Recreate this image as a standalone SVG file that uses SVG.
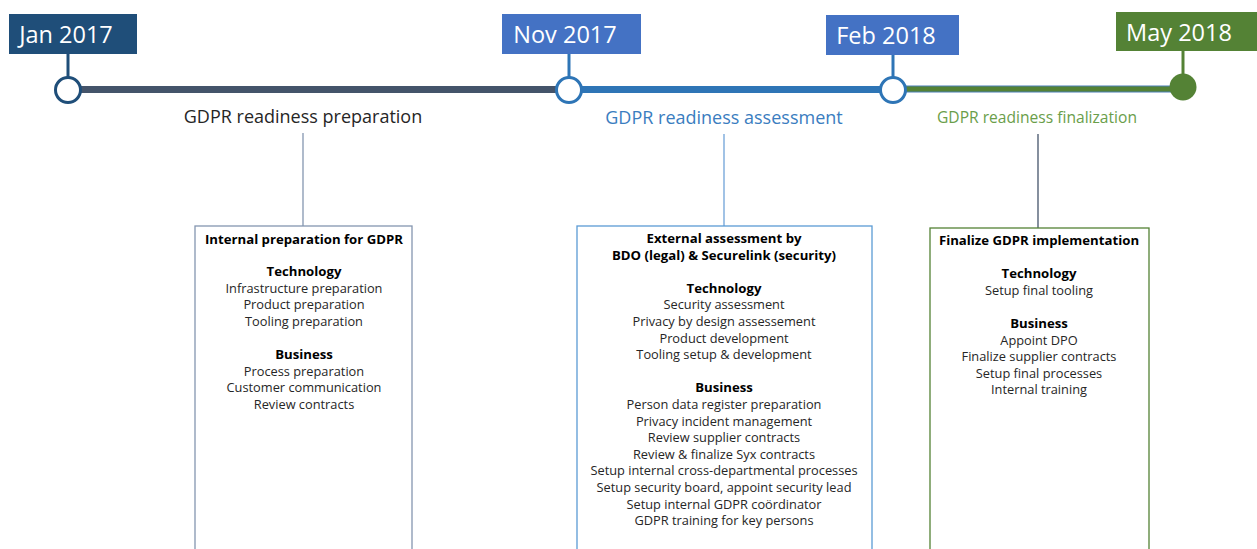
<svg xmlns="http://www.w3.org/2000/svg" width="1257" height="549" viewBox="0 0 1257 549">
<style>
text{font-family:"Open Sans","Noto Sans","Liberation Sans",sans-serif;text-anchor:middle}
.date{fill:#fff;font-size:23.5px}
.phase{font-size:18px}
.box{fill:#fff;stroke-width:1.3}
.t{font-size:12.8px;fill:#262626}
.b{font-size:13.2px;font-weight:bold;fill:#000}
.ring{fill:#fff;stroke-width:3}
</style>
<rect width="1257" height="549" fill="#fff"/>
<g id="timeline">
<line x1="68" y1="89.5" x2="569" y2="89.5" stroke="#44546A" stroke-width="7"/>
<line x1="569" y1="89.5" x2="893" y2="89.5" stroke="#2E75B6" stroke-width="7"/>
<line x1="893" y1="89" x2="1183" y2="89" stroke="#4A7FB5" stroke-width="7"/>
<line x1="893" y1="89" x2="1183" y2="89" stroke="#548235" stroke-width="5"/>
</g>
<g id="jan2017">
<line x1="68" y1="54" x2="68" y2="78" stroke="#1F4E79" stroke-width="3"/>
<rect x="9" y="14" width="128" height="40" fill="#1F4E79"/>
<text class="date" x="66" y="43">Jan 2017</text>
<circle class="ring" cx="68" cy="90" r="12.5" stroke="#1F4E79"/>
</g>
<g id="nov2017">
<line x1="569" y1="54" x2="569" y2="78" stroke="#2E75B6" stroke-width="3"/>
<rect x="502" y="14" width="139" height="40" fill="#4472C4"/>
<text class="date" x="565" y="43">Nov 2017</text>
<circle class="ring" cx="569" cy="90" r="12.5" stroke="#2E75B6"/>
</g>
<g id="feb2018">
<line x1="893" y1="55" x2="893" y2="78" stroke="#2E75B6" stroke-width="3"/>
<rect x="826" y="15" width="133" height="40" fill="#4472C4"/>
<text class="date" x="886" y="44">Feb 2018</text>
<circle class="ring" cx="893" cy="90" r="12.5" stroke="#2E75B6"/>
</g>
<g id="may2018">
<line x1="1183" y1="51" x2="1183" y2="78" stroke="#548235" stroke-width="3"/>
<rect x="1116" y="12" width="141" height="39" fill="#548235"/>
<text class="date" x="1179" y="40.5">May 2018</text>
<circle cx="1183" cy="87" r="13.5" fill="#548235"/>
</g>
<g id="connectors">
<line x1="303" y1="133" x2="303" y2="226" stroke="#8496B0" stroke-width="1.3"/>
<line x1="724" y1="134" x2="724" y2="226" stroke="#6FA2D8" stroke-width="1.3"/>
<line x1="1038" y1="134" x2="1038" y2="228" stroke="#44546A" stroke-width="1.3"/>
</g>
<g id="phase-preparation">
<text class="phase" x="303" y="123" fill="#262626">GDPR readiness preparation</text>
</g>
<g id="phase-assessment">
<text class="phase" x="724" y="124" fill="#3A7DC0">GDPR readiness assessment</text>
</g>
<g id="phase-finalization">
<text class="phase" x="1037" y="123" fill="#6A9E4A" style="font-size:15.6px">GDPR readiness finalization</text>
</g>
<g id="box-preparation">
<rect class="box" x="195" y="226" width="217" height="330" stroke="#8496B0"/>
<text class="b" x="304" y="244">Internal preparation for GDPR</text>
<text class="b" x="304" y="276">Technology</text>
<text class="t" x="304" y="293">Infrastructure preparation</text>
<text class="t" x="304" y="309">Product preparation</text>
<text class="t" x="304" y="326">Tooling preparation</text>
<text class="b" x="304" y="359">Business</text>
<text class="t" x="304" y="376">Process preparation</text>
<text class="t" x="304" y="392">Customer communication</text>
<text class="t" x="304" y="409">Review contracts</text>
</g>
<g id="box-assessment">
<rect class="box" x="577" y="226" width="295" height="330" stroke="#5B9BD5"/>
<text class="b" x="724" y="243">External assessment by</text>
<text class="b" x="724" y="260">BDO (legal) &amp; Securelink (security)</text>
<text class="b" x="724" y="293">Technology</text>
<text class="t" x="724" y="309">Security assessment</text>
<text class="t" x="724" y="326">Privacy by design assessement</text>
<text class="t" x="724" y="343">Product development</text>
<text class="t" x="724" y="359">Tooling setup &amp; development</text>
<text class="b" x="724" y="392">Business</text>
<text class="t" x="724" y="409">Person data register preparation</text>
<text class="t" x="724" y="426">Privacy incident management</text>
<text class="t" x="724" y="442">Review supplier contracts</text>
<text class="t" x="724" y="459">Review &amp; finalize Syx contracts</text>
<text class="t" x="724" y="475">Setup internal cross-departmental processes</text>
<text class="t" x="724" y="492">Setup security board, appoint security lead</text>
<text class="t" x="724" y="509">Setup internal GDPR coördinator</text>
<text class="t" x="724" y="525">GDPR training for key persons</text>
</g>
<g id="box-finalization">
<rect class="box" x="930" y="228" width="219" height="330" stroke="#548235"/>
<text class="b" x="1039" y="245">Finalize GDPR implementation</text>
<text class="b" x="1039" y="278">Technology</text>
<text class="t" x="1039" y="295">Setup final tooling</text>
<text class="b" x="1039" y="328">Business</text>
<text class="t" x="1039" y="345">Appoint DPO</text>
<text class="t" x="1039" y="361">Finalize supplier contracts</text>
<text class="t" x="1039" y="378">Setup final processes</text>
<text class="t" x="1039" y="394">Internal training</text>
</g>
</svg>
